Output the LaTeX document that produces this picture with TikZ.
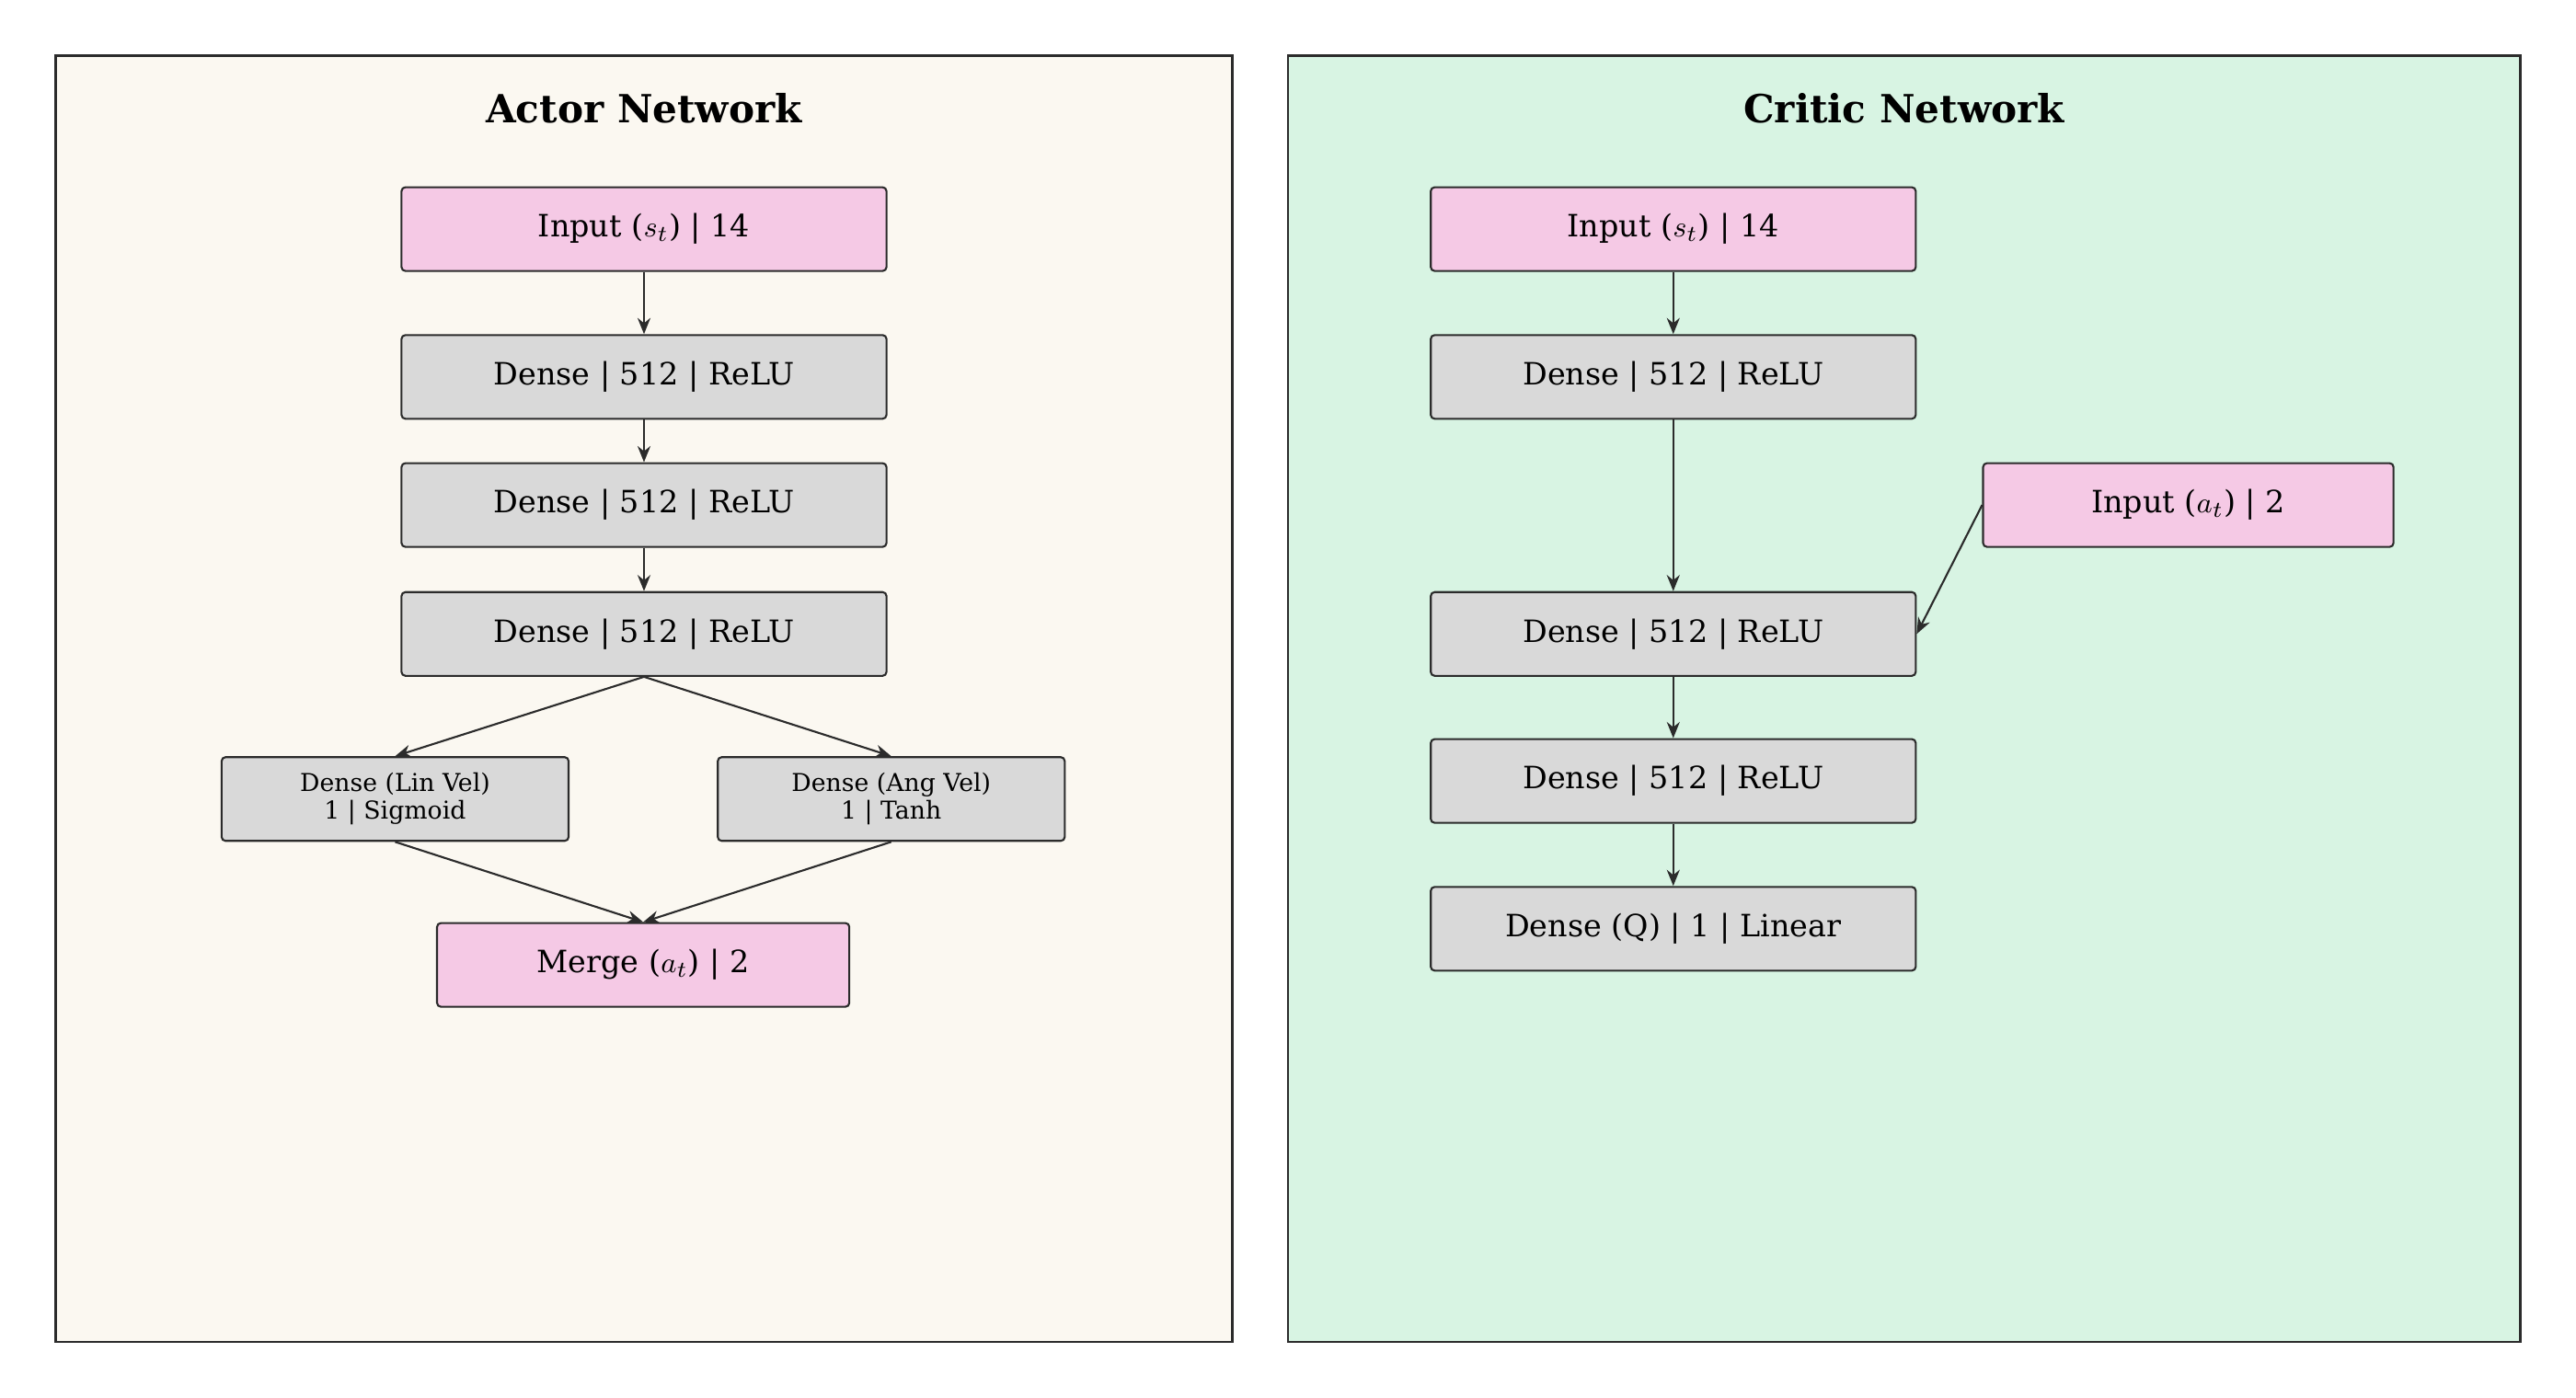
\documentclass[tikz,border=0pt]{standalone}
\usepackage{fontspec}
\setmainfont{DejaVu Serif}
\usetikzlibrary{arrows.meta, positioning}
\definecolor{actorbg}{HTML}{FBF8F1}
\definecolor{criticbg}{HTML}{D8F4E3}
\definecolor{inpink}{HTML}{F5C9E5}
\definecolor{layergray}{HTML}{D9D9D9}
\definecolor{edgedark}{HTML}{2B2B2B}

\begin{document}
\begin{tikzpicture}[x=0.017857cm, y=-0.017857cm, >={Stealth[length=5pt,width=4pt]},
    every node/.style={align=center},
    layer/.style={draw=edgedark, fill=layergray, rounded corners=1.2pt, line width=0.6pt,
        minimum width=5.27cm, minimum height=0.91cm, font=\fontsize{9.5}{11}\selectfont},
    inlayer/.style={layer, fill=inpink},
    headlayer/.style={layer, minimum width=3.77cm, font=\fontsize{7.6}{8.6}\selectfont},
    panel/.style={draw=edgedark, line width=0.7pt},
    title/.style={font=\bfseries\fontsize{12}{14}\selectfont},
    link/.style={->, draw=edgedark, line width=0.6pt}]
    \useasboundingbox (0,0) rectangle (1568,851);
    % panels
    \draw[panel, fill=actorbg] (34,34) rectangle (750,817);
    \draw[panel, fill=criticbg] (784,34) rectangle (1534,817);
    \node[title] (actortitle) at (392,66) {Actor Network};
    \node[title] (critictitle) at (1159,66) {Critic Network};
    % actor
    \node[inlayer] (ain) at (392,139.5) {Input ($s_t$) | 14};
    \node[layer] (ad1) at (392,229.5) {Dense | 512 | ReLU};
    \node[layer] (ad2) at (392,307.5) {Dense | 512 | ReLU};
    \node[layer] (ad3) at (392,386) {Dense | 512 | ReLU};
    \node[headlayer] (alin) at (240.5,486.5) {Dense (Lin Vel)\\1 | Sigmoid};
    \node[headlayer] (aang) at (542.5,486.5) {Dense (Ang Vel)\\1 | Tanh};
    \node[inlayer, minimum width=4.48cm] (amerge) at (391.5,587.5) {Merge ($a_t$) | 2};
    \draw[link] (ain) -- (ad1);
    \draw[link] (ad1) -- (ad2);
    \draw[link] (ad2) -- (ad3);
    \draw[link] (ad3.south) -- (alin.north);
    \draw[link] (ad3.south) -- (aang.north);
    \draw[link] (alin.south) -- (amerge.north);
    \draw[link] (aang.south) -- (amerge.north);
    % critic
    \node[inlayer] (cin) at (1018.5,139.5) {Input ($s_t$) | 14};
    \node[layer] (cd1) at (1018.5,229.5) {Dense | 512 | ReLU};
    \node[inlayer, minimum width=4.46cm] (cact) at (1332,307.5) {Input ($a_t$) | 2};
    \node[layer] (cd2) at (1018.5,386) {Dense | 512 | ReLU};
    \node[layer] (cd3) at (1018.5,475.5) {Dense | 512 | ReLU};
    \node[layer] (cq) at (1018.5,565.5) {Dense (Q) | 1 | Linear};
    \draw[link] (cin) -- (cd1);
    \draw[link] (cd1) -- (cd2);
    \draw[link] (cact.west) -- (cd2.east);
    \draw[link] (cd2) -- (cd3);
    \draw[link] (cd3) -- (cq);
\end{tikzpicture}
\end{document}
